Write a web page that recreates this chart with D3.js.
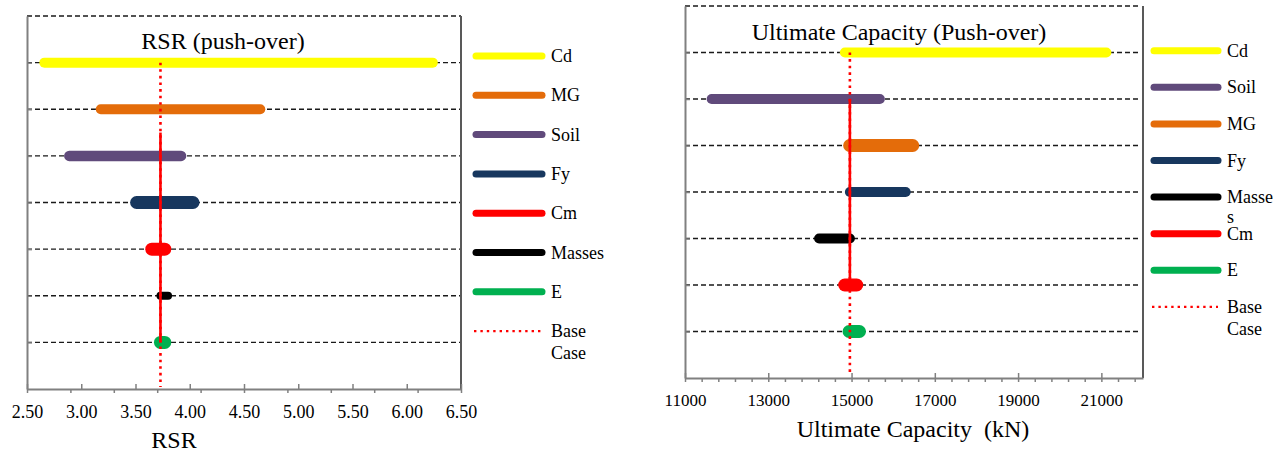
<!DOCTYPE html>
<html>
<head>
<meta charset="utf-8">
<script src="https://cdn.jsdelivr.net/npm/d3@7"></script>
<style>
  body { margin: 0; background: #fff; }
  svg text { font-family: "Liberation Serif", "Times New Roman", serif !important; fill: #000; }
</style>
</head>
<body>
<div id="chart"></div>
<script>
// RSR (push-over): low / high value of each parameter
const rsrParams = ["Cd", "MG", "Soil", "Fy", "Cm", "Masses", "E"];
const rsrLow    = [2.66, 3.18, 2.89, 3.51, 3.65, 3.73, 3.73];
const rsrHigh   = [6.24, 4.65, 3.92, 4.03, 3.77, 3.80, 3.77];
const rsrBase   = 3.73;
const rsrTicks  = [2.5, 3.0, 3.5, 4.0, 4.5, 5.0, 5.5, 6.0, 6.5];
const rsrMinor  = [2.5, 2.9, 3.3, 3.7, 4.1, 4.5, 4.9, 5.3, 5.7, 6.1, 6.5];

// Ultimate capacity (push-over), kN
const capParams = ["Cd", "Soil", "MG", "Fy", "Masses", "Cm", "E"];
const capLow    = [14840, 11640, 14955, 14960, 14220, 14835, 14940];
const capHigh   = [21120, 15680, 16470, 16300, 14960, 15125, 15190];
const capBase   = 14960;
const capTicks  = [11000, 13000, 15000, 17000, 19000, 21000];
const capMinor  = d3.range(11000, 22001, 400);

const colors = {
  Cd: "#FFFF00", MG: "#E46C0A", Soil: "#604A7B", Fy: "#17375E",
  Cm: "#FF0000", Masses: "#000000", E: "#00B050"
};

let svg = d3.select("#chart").append("svg")
  .attr("width", 1285).attr("height", 453)
  .style("display", "block");

function drawTornado(cfg) {
  let x = d3.scaleLinear().domain(cfg.xDomain).range([cfg.left, cfg.right]);
  // row -1 is the top edge, rows 0..6 the parameters
  let y = d3.scaleLinear().domain([-1, 7]).range([cfg.top, cfg.bottom]);
  let g = svg.append("g");

  // dashed grid lines (incl. top edge)
  g.selectAll(".grid").data(d3.range(-1, cfg.params.length)).join("line")
    .attr("x1", cfg.left).attr("x2", cfg.gridEnd)
    .attr("y1", d => y(d)).attr("y2", d => y(d))
    .attr("stroke", "#1a1a1a").attr("stroke-width", 1.3)
    .attr("stroke-dasharray", "5,3");

  // right border
  g.append("line")
    .attr("x1", cfg.right).attr("x2", cfg.right)
    .attr("y1", cfg.top).attr("y2", cfg.bottom)
    .attr("stroke", "#595959").attr("stroke-width", 2);

  // left axis (border + small row ticks)
  let yAxis = g.append("g").attr("transform", "translate(" + cfg.left + ",0)")
    .call(d3.axisLeft(y).tickValues(d3.range(0, cfg.params.length)).tickSize(-5).tickSizeOuter(0).tickFormat(""));
  yAxis.selectAll("line").attr("stroke", "#808080").attr("stroke-width", 1.5);
  yAxis.select(".domain").attr("stroke", "#808080").attr("stroke-width", 2);

  // bottom axis: minor ticks outside, major ticks inside with labels
  let minorAxis = g.append("g").attr("transform", "translate(0," + cfg.bottom + ")")
    .call(d3.axisBottom(x).tickValues(cfg.minor).tickSize(4).tickSizeOuter(0).tickFormat(""));
  minorAxis.selectAll("line").attr("stroke", "#808080").attr("stroke-width", 1.5);
  minorAxis.select(".domain").attr("stroke", "#808080").attr("stroke-width", 2);

  let xAxis = g.append("g").attr("transform", "translate(0," + cfg.bottom + ")")
    .call(d3.axisBottom(x).tickValues(cfg.ticks).tickSize(-5).tickSizeOuter(0)
      .tickFormat(cfg.fmt).tickPadding(cfg.tickPad));
  xAxis.attr("font-family", null).attr("font-size", null);
  xAxis.select(".domain").remove();
  xAxis.selectAll("line").attr("stroke", "#808080").attr("stroke-width", 1.5);
  xAxis.selectAll("text")
    .attr("font-family", "Liberation Serif, serif")
    .attr("font-size", cfg.tickFont)
    .style("font-size", cfg.tickFont + "px").attr("fill", "#000");

  // range bars
  g.selectAll(".bar").data(cfg.params).join("line")
    .attr("x1", (d, i) => x(cfg.low[i])).attr("x2", (d, i) => x(cfg.high[i]))
    .attr("y1", (d, i) => y(i)).attr("y2", (d, i) => y(i))
    .attr("stroke", d => colors[d])
    .attr("stroke-width", d => cfg.widths[d])
    .attr("stroke-linecap", "round");

  // base case line: dotted, solid through the middle rows
  g.append("line")
    .attr("x1", x(cfg.base)).attr("x2", x(cfg.base))
    .attr("y1", y(0)).attr("y2", cfg.bottom - 2)
    .attr("stroke", "#FF0000").attr("stroke-width", 2.6)
    .attr("stroke-dasharray", "2.6,4");
  g.append("line")
    .attr("x1", x(cfg.base)).attr("x2", x(cfg.base))
    .attr("y1", y(cfg.solid[0])).attr("y2", y(cfg.solid[1]))
    .attr("stroke", "#FF0000").attr("stroke-width", 2.6);

  // titles
  g.append("text")
    .attr("x", cfg.titleX).attr("y", cfg.titleY)
    .attr("text-anchor", "middle").style("font-size", "24px")
    .text(cfg.title);
  g.append("text")
    .attr("x", cfg.xTitleX).attr("y", cfg.xTitleY)
    .attr("text-anchor", "middle").style("font-size", "24px")
    .style("white-space", "pre")
    .text(cfg.xTitle);

  // legend
  let lg = g.append("g");
  cfg.params.forEach(function(p, i) {
    let ly = cfg.legY + i * cfg.legStep;
    lg.append("line")
      .attr("x1", cfg.legX1).attr("x2", cfg.legX2)
      .attr("y1", ly).attr("y2", ly)
      .attr("stroke", colors[p]).attr("stroke-width", 7)
      .attr("stroke-linecap", "round");
    let t = lg.append("text")
      .attr("x", cfg.legX2 + 9).attr("y", ly + 6)
      .style("font-size", "18px");
    let lines = (cfg.wrap && cfg.wrap[p]) || [p];
    lines.forEach(function(s, k) {
      t.append("tspan").attr("x", cfg.legX2 + 9).attr("dy", k === 0 ? 0 : 20).text(s);
    });
  });
  let by = cfg.legY + cfg.params.length * cfg.legStep;
  lg.append("line")
    .attr("x1", cfg.legX1 - 2).attr("x2", cfg.legX2)
    .attr("y1", by).attr("y2", by)
    .attr("stroke", "#FF0000").attr("stroke-width", 2.4)
    .attr("stroke-dasharray", "2.4,4");
  let bt = lg.append("text").attr("x", cfg.legX2 + 9).attr("y", by + 6).style("font-size", "18px");
  bt.append("tspan").attr("x", cfg.legX2 + 9).text("Base");
  bt.append("tspan").attr("x", cfg.legX2 + 9).attr("dy", 22).text("Case");
}

drawTornado({
  params: rsrParams, low: rsrLow, high: rsrHigh, base: rsrBase,
  ticks: rsrTicks, minor: rsrMinor, fmt: d3.format(".2f"),
  xDomain: [2.5, 6.5], left: 27, right: 461, top: 16, bottom: 389, gridEnd: 461,
  tickPad: 16, tickFont: 18,
  widths: { Cd: 10, MG: 10, Soil: 10.5, Fy: 13, Cm: 13, Masses: 8, E: 13 },
  solid: [1.5, 6],
  title: "RSR (push-over)", titleX: 223, titleY: 49,
  xTitle: "RSR", xTitleX: 174, xTitleY: 448,
  legX1: 476, legX2: 542, legY: 56, legStep: 39.3
});

drawTornado({
  params: capParams, low: capLow, high: capHigh, base: capBase,
  ticks: capTicks, minor: capMinor, fmt: d3.format("d"),
  xDomain: [11000, 22000], left: 685, right: 1143, top: 6, bottom: 378, gridEnd: 1138,
  tickPad: 16, tickFont: 17,
  widths: { Cd: 10, Soil: 10, MG: 13, Fy: 10, Masses: 10, Cm: 13, E: 13 },
  solid: [1, 5],
  title: "Ultimate Capacity (Push-over)", titleX: 899, titleY: 40,
  xTitle: "Ultimate Capacity  (kN)", xTitleX: 913, xTitleY: 437,
  legX1: 1154, legX2: 1218, legY: 50.7, legStep: 36.6,
  wrap: { Masses: ["Masse", "s"] }
});
</script>
</body>
</html>
